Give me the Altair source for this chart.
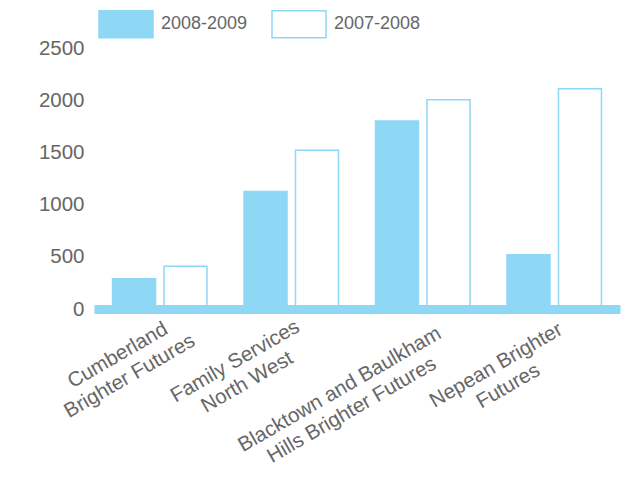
import json
import altair as alt
import pandas as pd

categories = [
    "Cumberland Brighter Futures",
    "Family Services North West",
    "Blacktown and Baulkham Hills Brighter Futures",
    "Nepean Brighter Futures",
]
label_lines = [
    ["Cumberland", "Brighter Futures"],
    ["Family Services", "North West"],
    ["Blacktown and Baulkham", "Hills Brighter Futures"],
    ["Nepean Brighter", "Futures"],
]
series = ["2008-2009", "2007-2008"]
values_2008_2009 = [290, 1125, 1800, 520]
values_2007_2008 = [410, 1520, 2005, 2110]
y_ticks = [0, 500, 1000, 1500, 2000, 2500]

rows = []
for i, c in enumerate(categories):
    rows.append({"org": c, "year": series[0], "count": values_2008_2009[i]})
    rows.append({"org": c, "year": series[1], "count": values_2007_2008[i]})
df = pd.DataFrame(rows)

BLUE = "#8ED8F6"
TEXT = "#666666"
FONT = "Liberation Sans"

# label placement (style): offset along axis and padding below it, per label block
label_dx = [-42, -56, -83, -58]
label_pad = [46, 52, 80, 56]

label_expr = " : ".join(
    f"datum.value === '{c}' ? {json.dumps(l)}" for c, l in zip(categories, label_lines)
) + " : datum.value"

offset_cond = {
    "condition": [{"test": f"datum.value === '{c}'", "value": d} for c, d in zip(categories, label_dx)],
    "value": 0,
}
pad_cond = {
    "condition": [{"test": f"datum.value === '{c}'", "value": p} for c, p in zip(categories, label_pad)],
    "value": 60,
}

chart = alt.Chart(df).mark_bar(stroke=BLUE, strokeWidth=1.5).encode(
    x=alt.X(
        "org:N",
        sort=categories,
        scale=alt.Scale(paddingInner=0, paddingOuter=0),
        axis=alt.Axis(
            title=None,
            ticks=False,
            tickSize=0,
            grid=False,
            domain=True,
            domainColor=BLUE,
            domainWidth=9,
            zindex=1,
            labelExpr=label_expr,
            labelAngle=330,
            labelAlign="center",
            labelBaseline="middle",
            labelFont=FONT,
            labelFontSize=20.5,
            labelColor=TEXT,
            labelLineHeight=24,
            labelLimit=400,
            labelOverlap=False,
            labelBound=False,
            labelOffset=offset_cond,
            labelPadding=pad_cond,
        ),
    ),
    xOffset=alt.XOffset(
        "year:N", sort=series, scale=alt.Scale(paddingInner=0.165, paddingOuter=0.36)
    ),
    y=alt.Y(
        "count:Q",
        scale=alt.Scale(domain=[0, 2500], nice=False),
        axis=alt.Axis(
            values=y_ticks,
            format="d",
            title=None,
            domain=False,
            ticks=False,
            grid=False,
            labelPadding=10,
            labelFont=FONT,
            labelFontSize=20.5,
            labelColor=TEXT,
        ),
    ),
    fill=alt.Fill(
        "year:N",
        sort=series,
        scale=alt.Scale(domain=series, range=[BLUE, "white"]),
        legend=alt.Legend(
            title=None,
            orient="none",
            legendX=4,
            legendY=-52,
            direction="horizontal",
            symbolType="M-1,-0.5L1,-0.5L1,0.5L-1,0.5Z",
            symbolSize=2916,
            symbolStrokeColor=BLUE,
            symbolStrokeWidth=1.5,
            labelFont=FONT,
            labelFontSize=18,
            labelColor=TEXT,
            labelOffset=7,
            columnPadding=21,
            padding=0,
        ),
    ),
).properties(
    width=526,
    height=261,
    autosize=alt.AutoSizeParams(type="none"),
    padding={"left": 86, "top": 40, "right": 15, "bottom": 160},
).configure_view(stroke=None)

chart.save("out.html", embed_options={"renderer": "svg", "actions": False})
